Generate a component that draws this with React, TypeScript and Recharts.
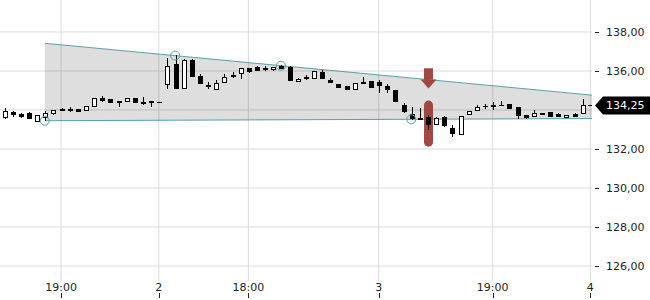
import { ComposedChart, Bar, Area, Scatter, XAxis, YAxis, CartesianGrid, ReferenceLine } from "recharts"

const opens = [
  133.66, 133.91, 133.79, 133.86, 133.45, 133.66, 133.83, 134.05, 134.04, 134.05,
  134.0, 134.2, 134.63, 134.55, 134.46, 134.46, 134.6, 134.4, 134.46, 134.39,
  135.32, 136.34, 135.14, 136.56, 135.76, 135.28, 135.08, 135.42, 135.79, 135.88,
  136.14, 136.2, 136.13, 136.1, 136.26, 136.22, 135.49, 135.71, 135.63, 135.96,
  135.52, 135.32, 135.23, 135.08, 135.45, 135.49, 135.45, 135.23, 135.03, 134.26,
  133.78, 133.6, 133.62, 133.27, 133.66, 133.06, 132.77, 133.78, 134.0, 134.22,
  134.27, 134.26, 134.31, 134.14, 133.74, 133.71, 133.83, 133.88, 133.78, 133.64,
  133.81, 133.86,
]
const highs = [
  134.09, 133.96, 133.86, 133.9, 133.76, 133.96, 134.0, 134.12, 134.14, 134.06,
  134.22, 134.62, 134.72, 134.56, 134.46, 134.6, 134.64, 134.68, 134.46, 134.41,
  136.68, 136.82, 136.6, 136.6, 135.83, 135.42, 135.54, 135.83, 135.93, 136.17,
  136.17, 136.26, 136.26, 136.22, 136.3, 136.27, 135.66, 135.79, 136.0, 136.07,
  135.63, 135.32, 135.23, 135.37, 135.68, 135.49, 135.54, 135.33, 135.03, 134.34,
  134.17, 134.09, 133.74, 133.62, 133.7, 133.23, 133.71, 133.96, 134.26, 134.31,
  134.41, 134.48, 134.31, 134.14, 133.74, 134.0, 133.86, 133.88, 133.83, 133.74,
  133.84, 134.55,
]
const lows = [
  133.54, 133.66, 133.57, 133.57, 133.43, 133.45, 133.74, 133.96, 133.91, 133.94,
  133.98, 134.18, 134.43, 134.38, 134.17, 134.39, 134.36, 134.26, 134.17, 134.37,
  135.06, 135.11, 135.12, 135.76, 135.32, 135.08, 135.08, 135.42, 135.63, 135.59,
  135.88, 136.0, 136.0, 136.0, 136.12, 135.54, 135.49, 135.54, 135.63, 135.63,
  135.42, 135.11, 135.08, 135.08, 135.37, 135.2, 134.86, 134.89, 134.48, 133.86,
  133.49, 133.55, 132.97, 133.25, 133.14, 132.63, 132.77, 133.78, 134.0, 134.07,
  134.0, 134.22, 134.09, 133.52, 133.52, 133.71, 133.78, 133.71, 133.71, 133.59,
  133.69, 133.86,
]
const closes = [
  133.96, 133.78, 133.71, 133.57, 133.74, 133.86, 134.0, 134.0, 134.02, 133.95,
  134.2, 134.6, 134.51, 134.39, 134.39, 134.6, 134.43, 134.36, 134.39, 134.39,
  136.27, 135.14, 136.56, 135.76, 135.37, 135.23, 135.37, 135.71, 135.73, 136.14,
  136.02, 136.04, 136.1, 136.22, 136.14, 135.54, 135.59, 135.63, 136.0, 135.63,
  135.45, 135.2, 135.08, 135.37, 135.37, 135.2, 135.28, 135.06, 134.48, 133.96,
  133.57, 133.56, 133.28, 133.6, 133.23, 132.8, 133.71, 133.96, 134.14, 134.19,
  134.2, 134.23, 134.09, 133.74, 133.62, 133.86, 133.8, 133.71, 133.71, 133.74,
  133.69, 134.25,
]

const xTicks = [7, 19, 30, 46, 60, 72]
const xTickLabels = ["19:00", "2", "18:00", "3", "19:00", "4"]
const yTicks = [126, 128, 130, 132, 134, 136, 138]

// trend channel, from the first pivot to the right edge
const channelX = [5, 72.2]
const channelLow = [133.45, 133.56]
const channelHigh = [137.42, 134.76]

const pivotX = [5, 21, 34, 50]
const pivotPrice = [133.45, 136.79, 136.27, 133.52]

const signalIndex = 52
const signalArrow = [135.1, 136.14]
const signalBar = [132.12, 134.48]

const lastPrice = 134.25

const TEAL = "#5b9fa7"
const SIGNAL = "#9a3a34"
const FONT = "DejaVu Sans"

const candles = opens.map((o, i) => ({
  i,
  open: o,
  high: highs[i],
  low: lows[i],
  close: closes[i],
  signal: i === signalIndex,
}))
const channel = channelX.map((x, k) => ({ i: x, range: [channelLow[k], channelHigh[k]] }))
const pivots = pivotX.map((x, k) => ({ i: x, p: pivotPrice[k] }))

const fmt = (v: number) => v.toFixed(2).replace(".", ",")

function Candle(props: any) {
  const { x, y, width, height, payload } = props
  const { open, close, high, low } = payload
  const span = high - low || 1
  const py = (p: number) => y + ((high - p) / span) * height
  const cx = Math.round(x + width / 2)
  const up = close >= open
  const top = Math.round(py(Math.max(open, close))) + 0.5
  const bot = Math.round(py(Math.min(open, close))) + 0.5

  let signal = null
  if (payload.signal) {
    const sx = cx + 0.5
    const barTop = py(signalBar[1])
    const barBot = py(signalBar[0])
    const aTop = py(signalArrow[1])
    const aTip = py(signalArrow[0])
    const headH = 9
    signal = (
      <g fill={SIGNAL} fillOpacity={0.92}>
        <rect x={sx - 4.5} y={barTop} width={9} height={barBot - barTop} rx={4.5} />
        <rect x={sx - 4.5} y={aTop} width={9} height={aTip - headH - aTop} />
        <polygon points={`${sx - 8},${aTip - headH} ${sx + 8},${aTip - headH} ${sx},${aTip}`} />
      </g>
    )
  }

  return (
    <g>
      {signal}
      <line x1={cx + 0.5} x2={cx + 0.5} y1={Math.round(y)} y2={Math.round(y + height)} stroke="#000" />
      {bot - top < 1 ? (
        <line x1={cx - 2} x2={cx + 3} y1={top} y2={top} stroke="#000" />
      ) : (
        <rect x={cx - 1.5} y={top} width={4} height={bot - top} fill={up ? "#fff" : "#000"} stroke="#000" />
      )}
    </g>
  )
}

function TimeTick({ x, y, payload }: any) {
  const k = xTicks.indexOf(payload.value)
  const lx = Math.round(x) + 0.5
  return (
    <g>
      <text x={x} y={y + 10} textAnchor="middle" fontSize={11} fontFamily={FONT} fill="#222">
        {xTickLabels[k]}
      </text>
      <line x1={lx} x2={lx} y1={y + 12} y2={y + 17} stroke="#222" />
    </g>
  )
}

function PriceTick({ x, y, payload }: any) {
  // the last-price tag covers the level it sits on
  if (Math.abs(payload.value - lastPrice) < 0.5) return <g />
  const ly = Math.round(y) + 0.5
  return (
    <g>
      <line x1={x + 3} x2={x + 7} y1={ly} y2={ly} stroke="#222" />
      <text x={x + 14} y={y} dy="0.35em" textAnchor="start" fontSize={11} fontFamily={FONT} fill="#222">
        {fmt(payload.value)}
      </text>
    </g>
  )
}

function PriceTag({ viewBox }: any) {
  const right = viewBox.x + viewBox.width
  const cy = Math.round(viewBox.y) + 0.5
  return (
    <g>
      <line x1={right - 4} x2={right} y1={cy} y2={cy} stroke="#000" />
      <polygon
        points={`${right + 3},${cy} ${right + 11},${cy - 9} ${right + 58},${cy - 9} ${right + 58},${cy + 9} ${right + 11},${cy + 9}`}
        fill="#000"
      />
      <text x={right + 14} y={cy} dy="0.35em" fontSize={11} fontFamily={FONT} fill="#fff">
        {fmt(lastPrice)}
      </text>
    </g>
  )
}

export default function App() {
  return (
    <div style={{ position: "absolute", left: 0, top: 0, width: 650, height: 300, background: "#fff" }}>
      <ComposedChart width={650} height={300} data={candles} margin={{ top: 0, right: 0, bottom: 0, left: 0 }}>
        <CartesianGrid stroke="#dcdcdc" horizontalValues={yTicks} verticalValues={xTicks} />
        <XAxis
          dataKey="i"
          type="number"
          domain={[-0.5, 72.2]}
          allowDataOverflow
          ticks={xTicks}
          height={19}
          axisLine={false}
          tickLine={false}
          tickSize={0}
          tickMargin={0}
          tick={<TimeTick />}
          interval={0}
        />
        <YAxis
          orientation="right"
          type="number"
          domain={[125.23, 139.64]}
          allowDataOverflow
          ticks={yTicks}
          width={58}
          axisLine={false}
          tickLine={false}
          tickSize={0}
          tickMargin={0}
          tick={<PriceTick />}
          interval={0}
        />
        <Area
          data={channel}
          dataKey="range"
          type="linear"
          stroke={TEAL}
          strokeWidth={1}
          fill="#000"
          fillOpacity={0.13}
          dot={false}
          activeDot={false}
          isAnimationActive={false}
        />
        <Bar dataKey={(d: any) => [d.low, d.high]} barSize={5} shape={<Candle />} isAnimationActive={false} />
        <Scatter
          data={pivots}
          dataKey="p"
          shape={(p: any) => <circle cx={p.cx} cy={p.cy} r={4.5} fill="none" stroke={TEAL} />}
          isAnimationActive={false}
        />
        <ReferenceLine y={lastPrice} stroke="none" label={<PriceTag />} />
      </ComposedChart>
    </div>
  )
}
